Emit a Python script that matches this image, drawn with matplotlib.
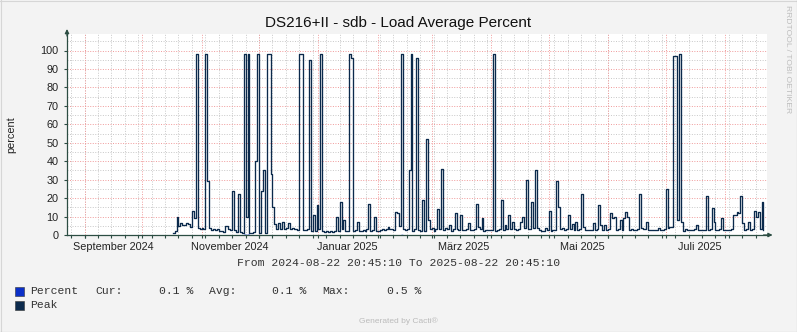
import matplotlib
matplotlib.use('Agg')
import matplotlib.pyplot as plt
from matplotlib.patches import Rectangle
from matplotlib.lines import Line2D
import pandas as pd

# time range of the graph
t_start = pd.Timestamp('2024-08-22 20:45:10')
t_end = pd.Timestamp('2025-08-22 20:45:10')
first_sample = '2024-10-17'

# daily peak load (percent), one value per day from first_sample
peak = [
    1, 2, 9.6, 4.9, 6.7, 5.5, 5.2, 6.3, 6, 4.2,
    13, 9, 98, 3.6, 3.5, 3.6, 3.5, 98, 29, 3.6,
    2.7, 3, 2.5, 3, 2.3, 2, 1.8, 4.9, 5, 3,
    2.5, 24, 2.5, 1.5, 22, 1.5, 1, 98, 10, 98,
    1, 1, 1.5, 40, 98, 1, 24, 35, 1, 98,
    98, 33, 15, 6, 3, 6.3, 3, 7, 3, 4,
    6.3, 3, 4, 3, 3, 2.5, 98, 98, 2.7, 2.5,
    3, 95, 2, 11, 2, 16, 3, 98, 2, 1.5,
    2, 1.5, 2, 1.5, 2, 10, 2, 18, 3, 8,
    2, 2, 98, 96, 2, 2.5, 7, 2, 2, 2.5,
    2, 3, 17, 2, 2.5, 10, 2, 2, 2.5, 3,
    2.5, 3, 4.5, 3, 3, 2.5, 12.6, 12, 5, 98,
    3, 2.5, 3, 35, 98, 2, 3, 96, 2.5, 2,
    19, 2, 52, 8, 3, 3.6, 2.3, 3, 14, 3,
    36, 2.5, 3.6, 3, 5.4, 2.3, 3, 12, 3, 2.5,
    11, 2.5, 2.5, 3, 6.3, 2.5, 2.5, 3, 17, 4.5,
    3, 9, 2.3, 2.5, 2.5, 2.7, 2.5, 98, 2.3, 2.5,
    3, 19, 2.5, 5.4, 3, 11, 3, 7.2, 3, 2.5,
    3, 7.2, 10, 3.6, 30, 3, 3, 18, 3.6, 35,
    3.6, 2.5, 2, 2, 3.6, 2.5, 13, 2, 2.5, 2.5,
    29, 15, 3, 4, 2.5, 3, 11, 3, 6, 2.7,
    7, 2.7, 3, 22, 4.5, 2.7, 2.7, 2.7, 2.7, 6.3,
    2.7, 3, 16.5, 5.4, 2.7, 5.4, 2.7, 3, 12, 9,
    10, 2.7, 3, 8, 2.7, 9, 12.6, 10, 2.7, 3,
    2.7, 2.7, 3, 22, 3.6, 3, 3, 7.2, 2.7, 2.7,
    2.7, 2.7, 2.7, 3.6, 2.7, 2.7, 3, 25, 3.6, 4.5,
    4.5, 97, 97, 8, 98, 7, 2, 3, 2.5, 2.7,
    2.5, 2.7, 3, 5.4, 2.7, 2.7, 2.7, 2.7, 21, 2.7,
    3, 14.5, 7.2, 2.7, 2.7, 3, 9, 2.7, 2.7, 2.7,
    2.7, 3, 11, 11, 12.6, 12, 21, 6.3, 2.7, 3,
    7.2, 2.7, 3, 13, 10, 12.6, 3, 18, 2.7,
]

# daily average load (percent)
percent = [
    0.1, 0.1, 0.1, 0.1, 0.1, 0.1, 0.1, 0.1, 0.1, 0.1, 0.1, 0.1, 0.2, 0.1, 0.1, 0.1, 0.1, 0.2, 0.1, 0.1,
    0.1, 0.1, 0.1, 0.1, 0.1, 0.1, 0.1, 0.1, 0.1, 0.1, 0.1, 0.1, 0.1, 0.1, 0.1, 0.1, 0.1, 0.5, 0.4, 0.5,
    0.1, 0.1, 0.1, 0.1, 0.2, 0.1, 0.1, 0.1, 0.1, 0.2, 0.2, 0.1, 0.1, 0.1, 0.1, 0.1, 0.1, 0.1, 0.1, 0.1,
    0.1, 0.1, 0.1, 0.1, 0.1, 0.1, 0.2, 0.2, 0.1, 0.1, 0.1, 0.2, 0.1, 0.1, 0.1, 0.1, 0.1, 0.2, 0.1, 0.1,
    0.1, 0.1, 0.1, 0.1, 0.1, 0.1, 0.1, 0.1, 0.1, 0.1, 0.1, 0.1, 0.2, 0.2, 0.1, 0.1, 0.1, 0.1, 0.1, 0.1,
    0.1, 0.1, 0.1, 0.1, 0.1, 0.1, 0.1, 0.1, 0.1, 0.1, 0.1, 0.1, 0.1, 0.1, 0.1, 0.1, 0.1, 0.1, 0.1, 0.4,
    0.1, 0.1, 0.1, 0.1, 0.2, 0.1, 0.1, 0.2, 0.1, 0.1, 0.1, 0.1, 0.1, 0.1, 0.1, 0.1, 0.1, 0.1, 0.1, 0.1,
    0.1, 0.1, 0.1, 0.1, 0.1, 0.1, 0.1, 0.1, 0.1, 0.1, 0.1, 0.1, 0.1, 0.1, 0.1, 0.1, 0.1, 0.1, 0.1, 0.1,
    0.1, 0.1, 0.1, 0.1, 0.1, 0.1, 0.1, 0.1, 0.1, 0.1, 0.1, 0.1, 0.1, 0.1, 0.1, 0.1, 0.1, 0.2, 0.1, 0.1,
    0.1, 0.1, 0.1, 0.1, 0.1, 0.1, 0.1, 0.1, 0.1, 0.1, 0.1, 0.1, 0.1, 0.1, 0.1, 0.1, 0.1, 0.1, 0.1, 0.1,
    0.1, 0.1, 0.1, 0.1, 0.1, 0.1, 0.1, 0.1, 0.1, 0.1, 0.1, 0.1, 0.1, 0.1, 0.1, 0.1, 0.1, 0.1, 0.1, 0.1,
    0.1, 0.1, 0.1, 0.1, 0.1, 0.1, 0.1, 0.1, 0.1, 0.1, 0.1, 0.1, 0.1, 0.1, 0.1, 0.1, 0.1, 0.1, 0.1, 0.1,
    0.1, 0.1, 0.1, 0.1, 0.1, 0.1, 0.1, 0.1, 0.1, 0.1, 0.1, 0.1, 0.1, 0.1, 0.1, 0.1, 0.1, 0.1, 0.1, 0.1,
    0.1, 0.2, 0.2, 0.1, 0.2, 0.1, 0.1, 0.1, 0.1, 0.1, 0.1, 0.1, 0.1, 0.1, 0.1, 0.1, 0.1, 0.1, 0.1, 0.1,
    0.1, 0.1, 0.1, 0.1, 0.1, 0.1, 0.1, 0.1, 0.1, 0.1, 0.1, 0.1, 0.1, 0.1, 0.1, 0.1, 0.1, 0.1, 0.1, 0.1,
    0.1, 0.1, 0.1, 0.1, 0.1, 0.1, 0.1, 0.1, 0.1,
]

month_labels = ['September 2024', 'November 2024', 'Januar 2025',
                'März 2025', 'Mai 2025', 'Juli 2025']
label_dates = ['2024-09-15 20:00', '2024-11-15 20:00', '2025-01-15 20:00',
               '2025-03-17 20:00', '2025-05-18 20:00', '2025-07-18 20:00']
y_ticks = [0, 10, 20, 30, 40, 50, 60, 70, 80, 90, 100]

legend_stats = [('Cur:', '0.1 %'), ('Avg:', '0.1 %'), ('Max:', '0.5 %')]

W, H = 797, 332
BG = '#F3F3F3'
AXIS = '#2C4D43'
PEAK_C = '#0B2A4C'
PCT_C = '#0A2FC8'
SANS = ['Liberation Sans', 'DejaVu Sans']
MONO = ['Liberation Mono', 'DejaVu Sans Mono']


def fx(px):
    return px / W


def fy(py):
    return 1 - py / H


fig = plt.figure(figsize=(W / 100, H / 100), dpi=100, facecolor=BG)
ax = fig.add_axes([fx(67), fy(235), (767 - 67) / W, (235 - 34) / H])
ax.set_facecolor('white')
ax.set_xlim(t_start, t_end)
ax.set_ylim(0, (235 - 34) / 1.845)

# grid: minor every 5 %, major every 10 %; weekly / monthly verticals
for v in range(5, 110, 5):
    if v % 10:
        ax.axhline(v, color='#C8C8C8', lw=0.7, ls=(0, (1, 1.6)), zorder=0)
for v in y_ticks[1:]:
    ax.axhline(v, color='#F09A9A', lw=0.7, ls=(0, (1, 1.6)), zorder=0.5)
weeks = pd.date_range('2024-08-25', t_end, freq='7D')
months = pd.date_range('2024-09-01', t_end, freq='MS')
for t in weeks:
    ax.axvline(t, color='#C8C8C8', lw=0.7, ls=(0, (1, 1.6)), zorder=0)
for t in months:
    ax.axvline(t, color='#F09A9A', lw=0.7, ls=(0, (1, 1.6)), zorder=0.5)

# one sample per day, each held for its whole day
days = pd.date_range(first_sample, periods=len(peak), freq='D')
ax.fill_between(days, percent, step='post', color=PCT_C, lw=0, zorder=1)
ax.step(days, peak, where='post', color=PEAK_C, lw=0.95, zorder=2)

for side in ('top', 'right'):
    ax.spines[side].set_visible(False)
for side in ('left', 'bottom'):
    ax.spines[side].set_color(AXIS)
    ax.spines[side].set_linewidth(0.9)
    ax.spines[side].set_zorder(3)

# axis arrows
ax.annotate('', xy=(0, 1.025), xytext=(0, 0.99), xycoords='axes fraction',
            arrowprops=dict(arrowstyle='-|>', color=AXIS, lw=0.9,
                            mutation_scale=6, shrinkA=0, shrinkB=0))
ax.annotate('', xy=(1.008, 0), xytext=(0.995, 0), xycoords='axes fraction',
            arrowprops=dict(arrowstyle='-|>', color=AXIS, lw=0.9,
                            mutation_scale=6, shrinkA=0, shrinkB=0))

ax.set_yticks(y_ticks)
ax.set_yticklabels([str(v) for v in y_ticks], family=SANS, fontsize=7.8, color='#222')
ax.tick_params(axis='y', length=2, width=0.8, color=AXIS, pad=4)

ax.set_xticks(pd.to_datetime(label_dates))
ax.set_xticklabels(month_labels, family=SANS, fontsize=7.8, color='#222')
ax.set_xticks(list(weeks) + list(months), minor=True)
ax.tick_params(axis='x', which='major', length=0, pad=5)
ax.tick_params(axis='x', which='minor', length=2, width=0.8, color=AXIS)

# texts
fig.text(fx(398.5), fy(23), 'DS216+II - sdb - Load Average Percent',
         ha='center', va='center', family=SANS, fontsize=11, color='#111')
fig.text(fx(11), fy(135), 'percent', rotation=90, ha='center', va='center',
         family=SANS, fontsize=7.8, color='#222')
fig.text(fx(398.5), fy(263), 'From 2024-08-22 20:45:10 To 2025-08-22 20:45:10',
         ha='center', va='center', family=MONO, fontsize=8.2, color='#333')
fig.text(fx(788), fy(5), 'RRDTOOL / TOBI OETIKER', rotation=270,
         ha='center', va='top', family=SANS, fontsize=6.1, color='#BDBDBD')
fig.text(fx(398), fy(321), 'Generated by Cacti®', ha='center', va='center',
         family=SANS, fontsize=6, color='#BBBBBB')

# legend rows
for row_y, colour, name in ((291.5, PCT_C, 'Percent'), (305.5, PEAK_C, 'Peak')):
    fig.add_artist(Rectangle((fx(15), fy(row_y + 4.5)), 8.5 / W, 9 / H,
                             transform=fig.transFigure, fc=colour, ec='#333', lw=0.4))
    fig.text(fx(30), fy(row_y), name, ha='left', va='center',
             family=MONO, fontsize=8.2, color='#333')
stat_x = [(95, 159), (209, 272.3), (322.7, 386.7)]
for (lx, vx), (lab, val) in zip(stat_x, legend_stats):
    fig.text(fx(lx), fy(291.5), lab, ha='left', va='center', family=MONO, fontsize=8.2, color='#333')
    fig.text(fx(vx), fy(291.5), val, ha='left', va='center', family=MONO, fontsize=8.2, color='#333')

# frame around the image
fig.add_artist(Line2D([0, 1], [fy(0.5), fy(0.5)], transform=fig.transFigure, color='#D6D6D6', lw=0.8))
fig.add_artist(Line2D([fx(0.5), fx(0.5)], [0, 1], transform=fig.transFigure, color='#D6D6D6', lw=0.8))
fig.add_artist(Line2D([0, 1], [fy(331.5), fy(331.5)], transform=fig.transFigure, color='#9A9A9A', lw=0.8))
fig.add_artist(Line2D([fx(796.5), fx(796.5)], [0, 1], transform=fig.transFigure, color='#9A9A9A', lw=0.8))

fig.savefig('out.png', dpi=100, facecolor=BG)
